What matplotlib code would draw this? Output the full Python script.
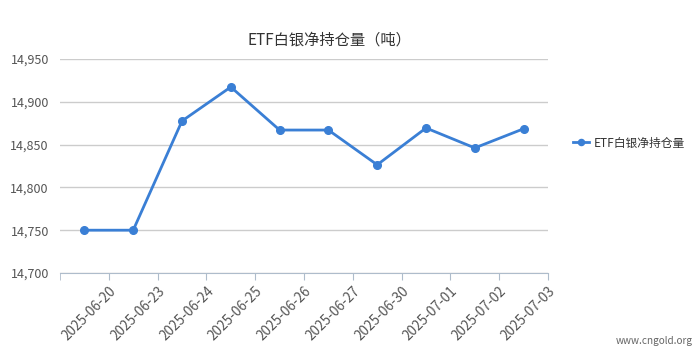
import numpy as np
import matplotlib
matplotlib.use('Agg')
import matplotlib.pyplot as plt
from matplotlib.ticker import FuncFormatter

plt.rcParams['font.family'] = ['Noto Sans CJK SC', 'DejaVu Sans']

dates = ['2025-06-20', '2025-06-23', '2025-06-24', '2025-06-25', '2025-06-26',
         '2025-06-27', '2025-06-30', '2025-07-01', '2025-07-02', '2025-07-03']
holdings = [14750, 14750, 14877.6, 14917.3, 14867, 14867, 14826.4, 14869.4, 14846.1, 14868.5]
series_name = 'ETF白银净持仓量'
title = 'ETF白银净持仓量（吨）'

fig = plt.figure(figsize=(7, 3.61), dpi=100)
ax = fig.add_axes([60/700, 1-273/361, 488/700, 214/361])

x = np.arange(len(dates)) + 0.5
ax.plot(x, holdings, color='#3a7fd5', lw=2, marker='o', ms=5.5, label=series_name, clip_on=False)

ax.set_xlim(0, len(dates))
ax.set_ylim(14700, 14950)
ax.set_yticks([14700, 14750, 14800, 14850, 14900, 14950])
ax.yaxis.set_major_formatter(FuncFormatter(lambda v, p: f'{v:,.0f}'))
ax.set_xticks(np.arange(1, len(dates) + 1))
ax.set_xticklabels(dates, rotation=45, ha='right', rotation_mode='anchor')
ax.set_xticks(np.arange(0, len(dates) + 1), minor=True)
ax.tick_params(axis='x', which='both', length=5, color='#aebccb', labelsize=9.8,
               labelcolor='#555555', pad=3)
ax.tick_params(axis='y', length=0, labelsize=9, labelcolor='#555555', pad=8)

ax.grid(axis='y', color='#cccccc', lw=1)
ax.set_axisbelow(True)
for s in ['top', 'right', 'left']:
    ax.spines[s].set_visible(False)
ax.spines['bottom'].set_color('#aebccb')

fig.text(0.47, 1-40/361, title, ha='center', va='center', fontsize=11, color='#333333')
fig.legend(loc='center left', bbox_to_anchor=(562/700, 1-143/361), frameon=False,
           fontsize=8.5, handlelength=1.4, handletextpad=0.4, labelcolor='#333333',
           markerscale=0.8)
fig.text(0.99, 1-341/361, 'www.cngold.org', ha='right', va='center', fontsize=7.2, color='#666666')

fig.savefig('out.png', dpi=100)
